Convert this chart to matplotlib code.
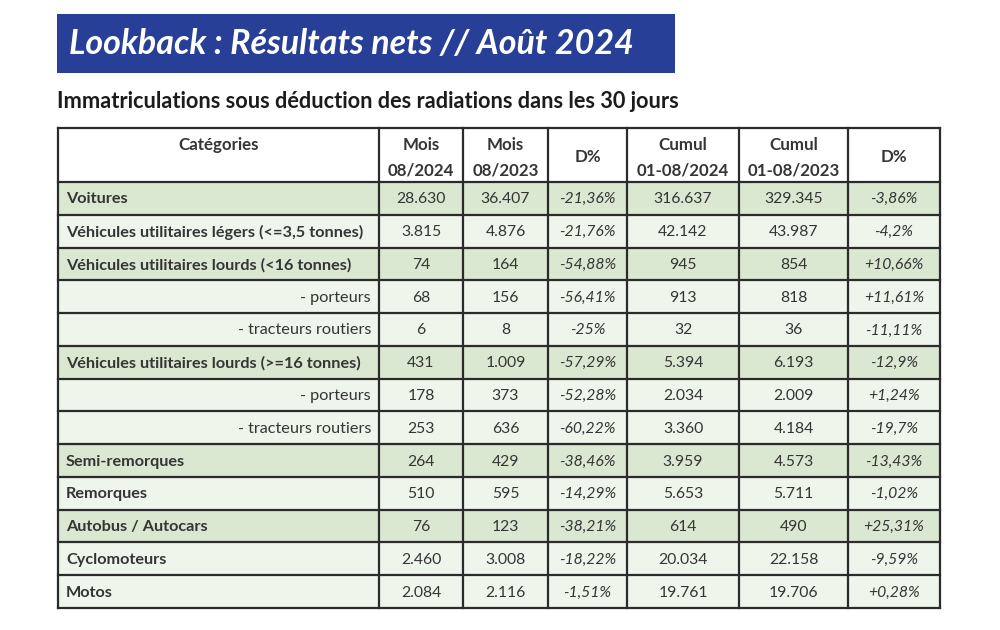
import matplotlib.pyplot as plt
from matplotlib.patches import Rectangle

plt.rcParams['font.family'] = ['Lato', 'DejaVu Sans']

title = 'Lookback : Résultats nets // Août 2024'
subtitle = 'Immatriculations sous déduction des radiations dans les 30 jours'

headers = [('Catégories', ''), ('Mois', '08/2024'), ('Mois', '08/2023'), ('D%', ''),
           ('Cumul', '01-08/2024'), ('Cumul', '01-08/2023'), ('D%', '')]

categories = ['Voitures', 'Véhicules utilitaires légers (<=3,5 tonnes)',
              'Véhicules utilitaires lourds (<16 tonnes)', '- porteurs',
              '- tracteurs routiers', 'Véhicules utilitaires lourds (>=16 tonnes)',
              '- porteurs', '- tracteurs routiers', 'Semi-remorques', 'Remorques',
              'Autobus / Autocars', 'Cyclomoteurs', 'Motos']
mois_2024 = ['28.630', '3.815', '74', '68', '6', '431', '178', '253',
             '264', '510', '76', '2.460', '2.084']
mois_2023 = ['36.407', '4.876', '164', '156', '8', '1.009', '373', '636',
             '429', '595', '123', '3.008', '2.116']
d_mois = ['-21,36%', '-21,76%', '-54,88%', '-56,41%', '-25%', '-57,29%',
          '-52,28%', '-60,22%', '-38,46%', '-14,29%', '-38,21%', '-18,22%', '-1,51%']
cumul_2024 = ['316.637', '42.142', '945', '913', '32', '5.394', '2.034',
              '3.360', '3.959', '5.653', '614', '20.034', '19.761']
cumul_2023 = ['329.345', '43.987', '854', '818', '36', '6.193', '2.009',
              '4.184', '4.573', '5.711', '490', '22.158', '19.706']
d_cumul = ['-3,86%', '-4,2%', '+10,66%', '+11,61%', '-11,11%', '-12,9%',
           '+1,24%', '-19,7%', '-13,43%', '-1,02%', '+25,31%', '-9,59%', '+0,28%']
# green highlighted rows
highlight = [True, False, True, False, False, True, False, False,
             True, False, True, False, False]

fig = plt.figure(figsize=(10, 6.3), dpi=100)
ax = fig.add_axes([0, 0, 1, 1])
ax.set_xlim(0, 1000)
ax.set_ylim(630, 0)
ax.axis('off')

# banner
ax.add_patch(Rectangle((57, 14), 618, 59, facecolor='#273f97', edgecolor='none'))
ax.text(69, 44, title, color='white', fontsize=24.5, fontweight='bold',
        fontstyle='italic', va='center', ha='left')
ax.text(57, 101, subtitle, color='#1c1c1c', fontsize=15.7, fontweight='bold',
        va='center', ha='left')

col_x = [58, 379, 463, 548, 627, 739, 848, 940]
top = 128
head_h = 54
row_h = (608 - 182) / len(categories)
txt = '#353535'
line = '#2b2b2b'

# header cells
for j, (h1, h2) in enumerate(headers):
    ax.add_patch(Rectangle((col_x[j], top), col_x[j + 1] - col_x[j], head_h,
                           facecolor='white', edgecolor='none'))
    cx = (col_x[j] + col_x[j + 1]) / 2
    if j == 0:
        ax.text(cx, top + 17, h1, ha='center', va='center', fontsize=12.2,
                fontweight='bold', color=txt)
    elif h2 == '':
        ax.text(cx, top + 29, h1, ha='center', va='center', fontsize=12.2,
                fontweight='bold', color=txt)
    else:
        ax.text(cx, top + 17, h1, ha='center', va='center', fontsize=12.2,
                fontweight='bold', color=txt)
        ax.text(cx, top + 42, h2, ha='center', va='center', fontsize=12.2,
                fontweight='bold', color=txt)

cols = [mois_2024, mois_2023, d_mois, cumul_2024, cumul_2023, d_cumul]
for i, cat in enumerate(categories):
    y0 = 182 + i * row_h
    yc = y0 + row_h / 2 + 1
    fc = '#dae7d1' if highlight[i] else '#eef5eb'
    ax.add_patch(Rectangle((col_x[0], y0), col_x[-1] - col_x[0], row_h,
                           facecolor=fc, edgecolor='none'))
    if cat.startswith('-'):
        ax.text(col_x[1] - 8, yc, cat, ha='right', va='center', fontsize=11.7,
                color=txt)
    else:
        ax.text(col_x[0] + 8, yc, cat, ha='left', va='center', fontsize=11.7,
                fontweight='bold', color=txt)
    for j, vals in enumerate(cols):
        cx = (col_x[j + 1] + col_x[j + 2]) / 2
        italic = 'italic' if j in (2, 5) else 'normal'
        ax.text(cx, yc, vals[i], ha='center', va='center', fontsize=11.3,
                fontstyle=italic, color=txt)

# grid lines
for x in col_x:
    ax.plot([x, x], [top, 608], color=line, lw=1.6, solid_capstyle='projecting')
ax.plot([col_x[0], col_x[-1]], [top, top], color=line, lw=1.6)
for i in range(len(categories) + 1):
    y = 182 + i * row_h
    ax.plot([col_x[0], col_x[-1]], [y, y], color=line, lw=1.6)

fig.savefig('out.png', dpi=100)
